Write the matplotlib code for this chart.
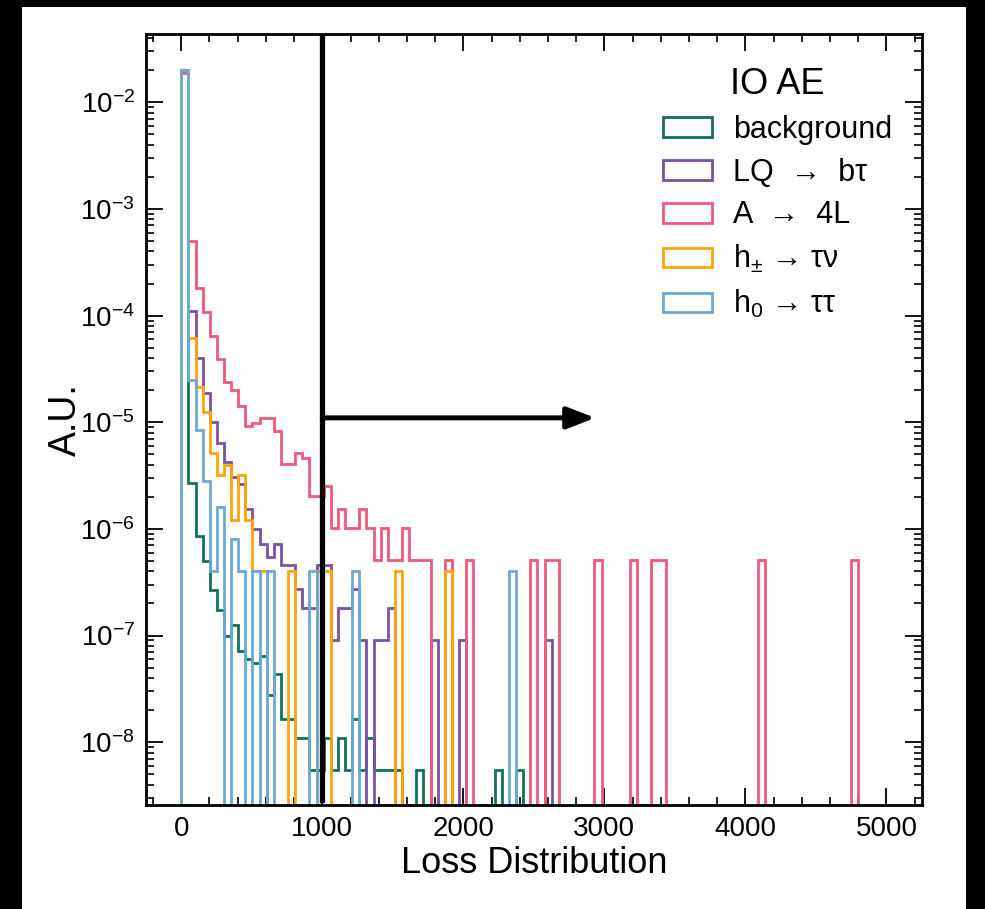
import numpy as np
import matplotlib
matplotlib.use("Agg")
import matplotlib.pyplot as plt
from matplotlib.ticker import MultipleLocator, FixedLocator, LogLocator, NullFormatter
from matplotlib.patches import Rectangle

plt.rcParams["font.family"] = ["Liberation Sans", "DejaVu Sans"]
plt.rcParams["mathtext.fontset"] = "custom"
plt.rcParams["mathtext.rm"] = "Liberation Sans"
plt.rcParams["mathtext.it"] = "Liberation Sans:italic"
plt.rcParams["mathtext.bf"] = "Liberation Sans:bold"

# Shared binning of the loss (99 bins between 0 and 5000)
bin_edges = np.linspace(0, 5000, 100)

# Normalised bin contents (A.U.) per sample, bins 0..98
background = [
    1.99e-2, 2.72e-6, 8.5e-7, 5.0e-7, 2.66e-7, 1.73e-7, 9.9e-8, 1.27e-7, 7.2e-8, 6.0e-8,
    5.5e-8, 6.5e-8, 2.75e-8, 4.4e-8, 1.65e-8, 1.65e-8, 1.1e-8, 1.1e-8, 5.5e-9, 5.5e-9,
    1.1e-8, 5.5e-9, 1.1e-8, 5.5e-9, 1.65e-8, 5.5e-9, 1.1e-8, 5.5e-9, 5.5e-9, 5.5e-9,
    5.5e-9, 0, 0, 5.5e-9, 0, 0, 0, 0, 0, 0,
    0, 0, 0, 0, 5.5e-9, 0, 0, 5.5e-9, 0, 0,
    0, 0, 0, 0, 0, 0, 0, 0, 0, 0,
    0, 0, 0, 0, 0, 0, 0, 0, 0, 0,
    0, 0, 0, 0, 0, 0, 0, 0, 0, 0,
    0, 0, 0, 0, 0, 0, 0, 0, 0, 0,
    0, 0, 0, 0, 0, 0, 0, 0, 0,
]

lq_btau = [
    1.97e-2, 1.11e-4, 4.03e-5, 1.87e-5, 1.01e-5, 6.4e-6, 4.2e-6, 3.1e-6, 2.64e-6, 1.55e-6,
    1.0e-6, 7.3e-7, 5.5e-7, 7.3e-7, 4.55e-7, 4.55e-7, 2.73e-7, 1.82e-7, 1.82e-7, 4.55e-7,
    4.55e-7, 9.1e-8, 1.82e-7, 1.82e-7, 2.73e-7, 9.1e-8, 0, 9.1e-8, 9.1e-8, 1.82e-7,
    0, 0, 0, 0, 0, 9.1e-8, 0, 0, 0, 9.1e-8,
    0, 0, 0, 0, 0, 0, 0, 0, 0, 0,
    0, 9.1e-8, 0, 0, 0, 0, 0, 0, 0, 0,
    0, 0, 0, 0, 0, 0, 0, 0, 0, 0,
    0, 0, 0, 0, 0, 0, 0, 0, 0, 0,
    0, 0, 0, 0, 0, 0, 0, 0, 0, 0,
    0, 0, 0, 0, 0, 0, 0, 0, 0,
]

a_4l = [
    1.89e-2, 4.97e-4, 1.83e-4, 1.08e-4, 6.5e-5, 3.9e-5, 2.38e-5, 2.0e-5, 1.42e-5, 9.2e-6,
    9.8e-6, 1.09e-5, 1.09e-5, 8.3e-6, 4.1e-6, 4.1e-6, 5.1e-6, 4.6e-6, 2.04e-6, 2.04e-6,
    2.55e-6, 1.02e-6, 1.53e-6, 1.02e-6, 1.02e-6, 1.53e-6, 1.02e-6, 5.1e-7, 1.02e-6, 5.1e-7,
    5.1e-7, 1.02e-6, 5.1e-7, 5.1e-7, 5.1e-7, 0, 0, 5.1e-7, 0, 0,
    5.1e-7, 0, 0, 0, 0, 0, 0, 0, 0, 5.1e-7,
    0, 5.1e-7, 5.1e-7, 0, 0, 0, 0, 0, 5.1e-7, 0,
    0, 0, 0, 5.1e-7, 0, 0, 5.1e-7, 5.1e-7, 0, 0,
    0, 0, 0, 0, 0, 0, 0, 0, 0, 0,
    0, 5.1e-7, 0, 0, 0, 0, 0, 0, 0, 0,
    0, 0, 0, 0, 5.1e-7, 0, 0, 0, 0,
]

hpm_taunu = [
    1.99e-2, 6.2e-5, 2.13e-5, 1.26e-5, 5.2e-6, 3.2e-6, 4.0e-6, 1.21e-6, 3.2e-6, 1.21e-6,
    4.03e-7, 4.03e-7, 0, 0, 0, 4.03e-7, 0, 0, 0, 4.03e-7,
    4.03e-7, 0, 0, 0, 0, 0, 0, 0, 0, 0,
    4.03e-7, 0, 0, 0, 0, 0, 0, 4.03e-7, 0, 0,
    0, 0, 0, 0, 0, 0, 0, 0, 0, 0,
    0, 0, 0, 0, 0, 0, 0, 0, 0, 0,
    0, 0, 0, 0, 0, 0, 0, 0, 0, 0,
    0, 0, 0, 0, 0, 0, 0, 0, 0, 0,
    0, 0, 0, 0, 0, 0, 0, 0, 0, 0,
    0, 0, 0, 0, 0, 0, 0, 0, 0,
]

h0_tautau = [
    2.01e-2, 2.47e-5, 8.4e-6, 2.8e-6, 4.03e-7, 1.61e-6, 0, 8.06e-7, 4.03e-7, 0,
    4.03e-7, 0, 4.03e-7, 0, 0, 0, 0, 0, 4.03e-7, 0,
    0, 0, 0, 0, 4.03e-7, 0, 0, 0, 0, 0,
    0, 0, 0, 0, 0, 0, 0, 0, 0, 0,
    0, 0, 0, 0, 0, 0, 4.03e-7, 0, 0, 0,
    0, 0, 0, 0, 0, 0, 0, 0, 0, 0,
    0, 0, 0, 0, 0, 0, 0, 0, 0, 0,
    0, 0, 0, 0, 0, 0, 0, 0, 0, 0,
    0, 0, 0, 0, 0, 0, 0, 0, 0, 0,
    0, 0, 0, 0, 0, 0, 0, 0, 0,
]

labels = [
    "background",
    "LQ  \u2192  b\u03c4",
    "A  \u2192  4L",
    "h$_{\\pm}$ \u2192 \u03c4\u03bd",
    "h$_{0}$ \u2192 \u03c4\u03c4",
]
colors = ["#12705E", "#7B52A1", "#EE5A7B", "#FFA50A", "#6CAAD2"]
series = [background, lq_btau, a_4l, hpm_taunu, h0_tautau]

y_decades = [1e-8, 1e-7, 1e-6, 1e-5, 1e-4, 1e-3, 1e-2]

cut_value = 1000
arrow_end = 2935
arrow_level = 1.1e-5

W, H = 985, 909
fig = plt.figure(figsize=(W / 100, H / 100), dpi=100)
fig.patch.set_facecolor("black")
fig.add_artist(Rectangle((22 / W, 0), (966 - 22) / W, 1 - 7 / H,
                         transform=fig.transFigure, facecolor="white",
                         edgecolor="none", zorder=0))

ax = fig.add_axes([146 / W, 1 - 805 / H, (921.7 - 146) / W, (805 - 34) / H])
ax.set_yscale("log", nonpositive="clip")

centers = 0.5 * (bin_edges[:-1] + bin_edges[1:])
for vals, col, lab in zip(series, colors, labels):
    ax.hist(centers, bins=bin_edges, weights=vals, histtype="step",
            color=col, lw=2.0, label=lab)

ax.set_xlim(-250, 5250)
ax.set_ylim(2.58e-9, 4.37e-2)

ax.axvline(cut_value, ymin=0.006, ymax=1, color="black", lw=3.8, zorder=5)
ax.annotate("", xy=(arrow_end, arrow_level), xytext=(cut_value, arrow_level),
            arrowprops=dict(arrowstyle="-|>,head_length=0.85,head_width=0.33",
                            color="black", lw=3.6, mutation_scale=20,
                            shrinkA=0, shrinkB=0), zorder=6)

ax.xaxis.set_major_locator(MultipleLocator(1000))
ax.xaxis.set_minor_locator(MultipleLocator(200))
ax.yaxis.set_major_locator(FixedLocator(y_decades))
ax.yaxis.set_minor_locator(LogLocator(base=10, subs=np.arange(2, 10), numticks=20))
ax.yaxis.set_minor_formatter(NullFormatter())

ax.tick_params(which="both", direction="in", top=True, right=True, labelsize=20)
ax.tick_params(which="major", length=12, width=1.3, pad=8)
ax.tick_params(which="minor", length=6, width=1.2)
for sp in ax.spines.values():
    sp.set_linewidth(2)

ax.set_xlabel("Loss Distribution", fontsize=26, labelpad=3)
ax.set_ylabel("A.U.", fontsize=27, labelpad=-3)

leg = ax.legend(title="IO AE", loc="upper right", frameon=False, fontsize=22,
                title_fontsize=26, handlelength=1.6, handleheight=0.62,
                handletextpad=0.68, labelspacing=0.42,
                bbox_to_anchor=(0.997, 0.993))

fig.savefig("out.png", dpi=100, facecolor=fig.get_facecolor())
